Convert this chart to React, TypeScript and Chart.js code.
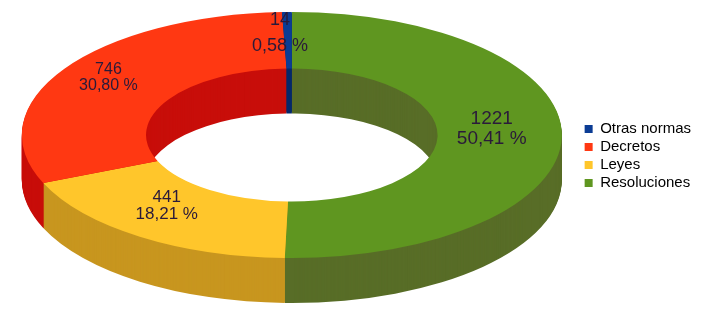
import React, { useEffect, useRef } from 'react';
import { Chart, registerables } from 'chart.js';

Chart.register(...registerables);

// Data (drawn clockwise from 12 o'clock; legend shows the reverse order)
const categories = ['Resoluciones', 'Leyes', 'Decretos', 'Otras normas'];
const counts = [1221, 441, 746, 14];
const total = counts.reduce((s, v) => s + v, 0);
const percentLabels = counts.map((v) => ((v / total) * 100).toFixed(2).replace('.', ',') + ' %');

// Styles
const topColors = ['#5f9620', '#ffc62b', '#ff3812', '#0b3c94'];
const sideColors = ['#586d27', '#c8961f', '#c80e0a', '#05286a'];
const labelFontSizes = [19, 17, 16, 18];
const labelLineGaps = [20, 17, 16, 26];
const labelColor = '#2a1a3a';
const FONT = "'Liberation Sans', Arial, sans-serif";

const tiltPlugin = {
  id: 'tilt3d',
  beforeDatasetsDraw(chart: any, _args: any, opts: any) {
    const meta = chart.getDatasetMeta(0);
    const arcs = meta.data;
    chart.$tiltSaved = false;
    if (!arcs.length) return;
    const ctx = chart.ctx;
    const a0 = arcs[0];
    const R = a0.outerRadius;
    const sx = opts.radiusX / R;
    const sy = opts.radiusY / R;
    const cx = a0.x + opts.shiftX;
    const cy = a0.y + opts.shiftY;
    const apply = (d: number) => {
      ctx.translate(cx, cy + d);
      ctx.scale(sx, sy);
      ctx.translate(-a0.x, -a0.y);
    };
    for (let d = opts.depth; d >= 1; d--) {
      arcs.forEach((arc: any, i: number) => {
        const p = arc.getProps(['x', 'y', 'startAngle', 'endAngle', 'innerRadius', 'outerRadius'], true);
        ctx.save();
        apply(d);
        ctx.beginPath();
        ctx.arc(p.x, p.y, p.outerRadius, p.startAngle, p.endAngle);
        ctx.arc(p.x, p.y, p.innerRadius, p.endAngle, p.startAngle, true);
        ctx.closePath();
        ctx.fillStyle = sideColors[i];
        ctx.fill();
        ctx.restore();
      });
    }
    ctx.save();
    apply(0);
    chart.$tiltSaved = true;
    chart.$tilt = { cx, cy, sx, sy, ox: a0.x, oy: a0.y };
  },
  afterDatasetsDraw(chart: any, _args: any, opts: any) {
    if (!chart.$tiltSaved) return;
    const ctx = chart.ctx;
    ctx.restore();
    const t = chart.$tilt;
    const arcs = chart.getDatasetMeta(0).data;
    ctx.save();
    ctx.textAlign = 'center';
    ctx.textBaseline = 'middle';
    ctx.fillStyle = labelColor;
    arcs.forEach((arc: any, i: number) => {
      const p = arc.getProps(['x', 'y', 'startAngle', 'endAngle', 'innerRadius', 'outerRadius'], true);
      const mid = (p.startAngle + p.endAngle) / 2;
      const mr = (p.innerRadius + p.outerRadius) / 2;
      const px = p.x + Math.cos(mid) * mr;
      const py = p.y + Math.sin(mid) * mr;
      const X = t.cx + (px - t.ox) * t.sx + opts.labelDX;
      const Y = t.cy + (py - t.oy) * t.sy + opts.labelDY;
      ctx.font = `${labelFontSizes[i]}px ${FONT}`;
      const g = labelLineGaps[i] / 2;
      ctx.fillText(String(counts[i]), X, Y - g);
      ctx.fillText(percentLabels[i], X, Y + g);
    });
    ctx.restore();
  },
};

export default function App() {
  const ref = useRef<HTMLCanvasElement | null>(null);
  useEffect(() => {
    document.body.style.margin = '0';
    if (!ref.current) return;
    const chart = new Chart(ref.current, {
      type: 'doughnut',
      data: {
        labels: categories,
        datasets: [
          {
            data: counts,
            backgroundColor: topColors,
            borderWidth: 0,
            clip: false as any,
          } as any,
        ],
      },
      options: {
        responsive: false,
        animation: false,
        devicePixelRatio: 1,
        events: [],
        cutout: '54%',
        layout: { padding: { left: 2, right: 20, top: 0, bottom: 0 } },
        plugins: {
          tooltip: { enabled: false },
          legend: {
            position: 'right',
            reverse: true,
            labels: {
              boxWidth: 8,
              boxHeight: 8,
              padding: 3,
              color: '#000',
              font: { family: FONT, size: 15 },
            },
          },
          tilt3d: {
            radiusX: 270,
            radiusY: 123,
            shiftX: 0,
            shiftY: -21,
            depth: 45,
            labelDX: -8,
            labelDY: -7,
          },
        } as any,
      },
      plugins: [tiltPlugin as any],
    });
    return () => chart.destroy();
  }, []);
  return <canvas ref={ref} width={721} height={312} style={{ display: 'block' }} />;
}
